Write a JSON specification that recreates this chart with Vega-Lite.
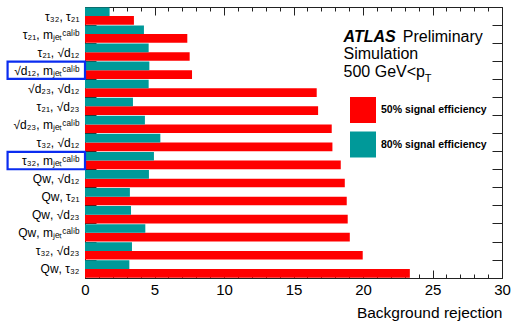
{
  "$schema": "https://vega.github.io/schema/vega-lite/v6.json",
  "width": 417,
  "height": 271,
  "autosize": {"type": "none"},
  "padding": {"left": 85, "top": 7, "right": 11, "bottom": 45},
  "background": "white",
  "config": {
    "view": {"stroke": null},
    "font": "Liberation Sans",
    "axis": {"grid": false, "domainColor": "#222", "tickColor": "#222", "labelColor": "#000", "titleColor": "#000", "zindex": 1}
  },
  "data": {
    "values": [
      {"pair": "τ₃₂, τ₂₁", "eff": "50% signal efficiency", "value": 3.52},
      {"pair": "τ₃₂, τ₂₁", "eff": "80% signal efficiency", "value": 1.77},
      {"pair": "τ₂₁, mⱼₑₜᶜᵃˡⁱᵇ", "eff": "50% signal efficiency", "value": 7.36},
      {"pair": "τ₂₁, mⱼₑₜᶜᵃˡⁱᵇ", "eff": "80% signal efficiency", "value": 4.24},
      {"pair": "τ₂₁, √d₁₂", "eff": "50% signal efficiency", "value": 7.53},
      {"pair": "τ₂₁, √d₁₂", "eff": "80% signal efficiency", "value": 4.58},
      {"pair": "√d₁₂, mⱼₑₜᶜᵃˡⁱᵇ", "eff": "50% signal efficiency", "value": 7.7},
      {"pair": "√d₁₂, mⱼₑₜᶜᵃˡⁱᵇ", "eff": "80% signal efficiency", "value": 4.63},
      {"pair": "√d₂₃, √d₁₂", "eff": "50% signal efficiency", "value": 16.67},
      {"pair": "√d₂₃, √d₁₂", "eff": "80% signal efficiency", "value": 4.58},
      {"pair": "τ₂₁, √d₂₃", "eff": "50% signal efficiency", "value": 16.77},
      {"pair": "τ₂₁, √d₂₃", "eff": "80% signal efficiency", "value": 3.45},
      {"pair": "√d₂₃, mⱼₑₜᶜᵃˡⁱᵇ", "eff": "50% signal efficiency", "value": 17.75},
      {"pair": "√d₂₃, mⱼₑₜᶜᵃˡⁱᵇ", "eff": "80% signal efficiency", "value": 4.31},
      {"pair": "τ₃₂, √d₁₂", "eff": "50% signal efficiency", "value": 17.8},
      {"pair": "τ₃₂, √d₁₂", "eff": "80% signal efficiency", "value": 5.42},
      {"pair": "τ₃₂, mⱼₑₜᶜᵃˡⁱᵇ", "eff": "50% signal efficiency", "value": 18.4},
      {"pair": "τ₃₂, mⱼₑₜᶜᵃˡⁱᵇ", "eff": "80% signal efficiency", "value": 4.96},
      {"pair": "Qᴡ, √d₁₂", "eff": "50% signal efficiency", "value": 18.69},
      {"pair": "Qᴡ, √d₁₂", "eff": "80% signal efficiency", "value": 4.6},
      {"pair": "Qᴡ, τ₂₁", "eff": "50% signal efficiency", "value": 18.83},
      {"pair": "Qᴡ, τ₂₁", "eff": "80% signal efficiency", "value": 3.23},
      {"pair": "Qᴡ, √d₂₃", "eff": "50% signal efficiency", "value": 18.9},
      {"pair": "Qᴡ, √d₂₃", "eff": "80% signal efficiency", "value": 3.31},
      {"pair": "Qᴡ, mⱼₑₜᶜᵃˡⁱᵇ", "eff": "50% signal efficiency", "value": 19.05},
      {"pair": "Qᴡ, mⱼₑₜᶜᵃˡⁱᵇ", "eff": "80% signal efficiency", "value": 4.34},
      {"pair": "τ₃₂, √d₂₃", "eff": "50% signal efficiency", "value": 19.98},
      {"pair": "τ₃₂, √d₂₃", "eff": "80% signal efficiency", "value": 3.38},
      {"pair": "Qᴡ, τ₃₂", "eff": "50% signal efficiency", "value": 23.37},
      {"pair": "Qᴡ, τ₃₂", "eff": "80% signal efficiency", "value": 3.19}
    ]
  },
  "resolve": {"axis": {"x": "independent", "y": "independent"}},
  "layer": [
    {
      "mark": {"type": "bar"},
      "encoding": {
        "y": {
          "field": "pair", "type": "nominal",
          "scale": {"domain": ["τ₃₂, τ₂₁", "τ₂₁, mⱼₑₜᶜᵃˡⁱᵇ", "τ₂₁, √d₁₂", "√d₁₂, mⱼₑₜᶜᵃˡⁱᵇ", "√d₂₃, √d₁₂", "τ₂₁, √d₂₃", "√d₂₃, mⱼₑₜᶜᵃˡⁱᵇ", "τ₃₂, √d₁₂", "τ₃₂, mⱼₑₜᶜᵃˡⁱᵇ", "Qᴡ, √d₁₂", "Qᴡ, τ₂₁", "Qᴡ, √d₂₃", "Qᴡ, mⱼₑₜᶜᵃˡⁱᵇ", "τ₃₂, √d₂₃", "Qᴡ, τ₃₂"], "paddingInner": 0.04, "paddingOuter": 0.02},
          "axis": {"orient": "left", "title": null, "tickBand": "extent", "tickSize": -11, "labelPadding": 17, "labelFontSize": 12, "labelLimit": 200, "domain": true}
        },
        "yOffset": {"field": "eff", "type": "nominal", "scale": {"domain": ["80% signal efficiency", "50% signal efficiency"], "paddingInner": 0}},
        "x": {
          "field": "value", "type": "quantitative",
          "scale": {"domain": [0, 30], "nice": false, "zero": true},
          "axis": {"orient": "bottom", "values": [0, 5, 10, 15, 20, 25, 30], "tickSize": -8, "labelPadding": 12, "labelFontSize": 15, "title": "Background rejection", "titleFontSize": 15.5, "titleFontWeight": "normal", "titleAnchor": "end", "titleAlign": "right", "titleX": 417, "titleY": 39, "titleBaseline": "alphabetic", "labelFlush": false, "labelOverlap": false}
        },
        "color": {
          "field": "eff", "type": "nominal",
          "scale": {"domain": ["50% signal efficiency", "80% signal efficiency"], "range": ["#ff0000", "#009999"]},
          "legend": {"title": null, "orient": "none", "legendX": 265, "legendY": 90, "symbolType": "square", "symbolSize": 676, "symbolStrokeWidth": 0, "symbolOpacity": 1, "labelFontSize": 10.5, "labelFontWeight": "bold", "labelFont": "Liberation Sans", "labelOffset": 5, "rowPadding": 8.5, "labelColor": "#000"}
        }
      }
    },
    {
      "data": {"values": [{"pair": "√d₁₂, mⱼₑₜᶜᵃˡⁱᵇ"}, {"pair": "τ₃₂, mⱼₑₜᶜᵃˡⁱᵇ"}]},
      "mark": {"type": "rect", "fill": null, "fillOpacity": 0, "stroke": "#0a2cf0", "strokeWidth": 2.2},
      "encoding": {
        "y": {"field": "pair", "type": "nominal", "axis": {"orient": "right", "title": null, "labels": false, "tickBand": "extent", "tickSize": -10, "domain": true}},
        "x": {"datum": -5.57, "type": "quantitative", "axis": {"orient": "top", "title": null, "labels": false, "values": [0, 5, 10, 15, 20, 25, 30], "tickSize": -8, "domain": true}},
        "x2": {"datum": 0}
      }
    },
    {
      "data": {"values": [{"note": "ATLAS"}]},
      "mark": {"type": "text", "fontSize": 16, "fontWeight": "bold", "fontStyle": "italic", "align": "left", "baseline": "alphabetic", "dy": 8},
      "encoding": {
        "text": {"field": "note"},
        "x": {"datum": 18.6, "type": "quantitative", "axis": {"orient": "bottom", "title": null, "labels": false, "domain": false, "tickSize": -4, "values": [0,1,2,3,4,5,6,7,8,9,10,11,12,13,14,15,16,17,18,19,20,21,22,23,24,25,26,27,28,29,30]}},
        "y": {"datum": "τ₂₁, mⱼₑₜᶜᵃˡⁱᵇ", "type": "nominal", "axis": null}
      }
    },
    {
      "data": {"values": [{"note": "Preliminary"}]},
      "mark": {"type": "text", "fontSize": 16, "align": "left", "baseline": "alphabetic", "dy": 8},
      "encoding": {
        "text": {"field": "note"},
        "x": {"datum": 22.86, "type": "quantitative", "axis": {"orient": "top", "title": null, "labels": false, "domain": false, "tickSize": -4, "values": [0,1,2,3,4,5,6,7,8,9,10,11,12,13,14,15,16,17,18,19,20,21,22,23,24,25,26,27,28,29,30]}},
        "y": {"datum": "τ₂₁, mⱼₑₜᶜᵃˡⁱᵇ", "type": "nominal", "axis": null}
      }
    },
    {
      "data": {"values": [{"note": "Simulation"}]},
      "mark": {"type": "text", "fontSize": 16, "align": "left", "baseline": "alphabetic", "dy": 7},
      "encoding": {
        "text": {"field": "note"},
        "x": {"datum": 18.6, "type": "quantitative", "axis": null},
        "y": {"datum": "τ₂₁, √d₁₂", "type": "nominal", "axis": null}
      }
    },
    {
      "data": {"values": [{"note": "500 GeV<p"}]},
      "mark": {"type": "text", "fontSize": 16, "align": "left", "baseline": "alphabetic", "dy": 6.5},
      "encoding": {
        "text": {"field": "note"},
        "x": {"datum": 18.6, "type": "quantitative", "axis": null},
        "y": {"datum": "√d₁₂, mⱼₑₜᶜᵃˡⁱᵇ", "type": "nominal", "axis": null}
      }
    },
    {
      "data": {"values": [{"note": "T"}]},
      "mark": {"type": "text", "fontSize": 11, "align": "left", "baseline": "alphabetic", "dy": 11.5},
      "encoding": {
        "text": {"field": "note"},
        "x": {"datum": 24.45, "type": "quantitative", "axis": null},
        "y": {"datum": "√d₁₂, mⱼₑₜᶜᵃˡⁱᵇ", "type": "nominal", "axis": null}
      }
    }
  ]
}
